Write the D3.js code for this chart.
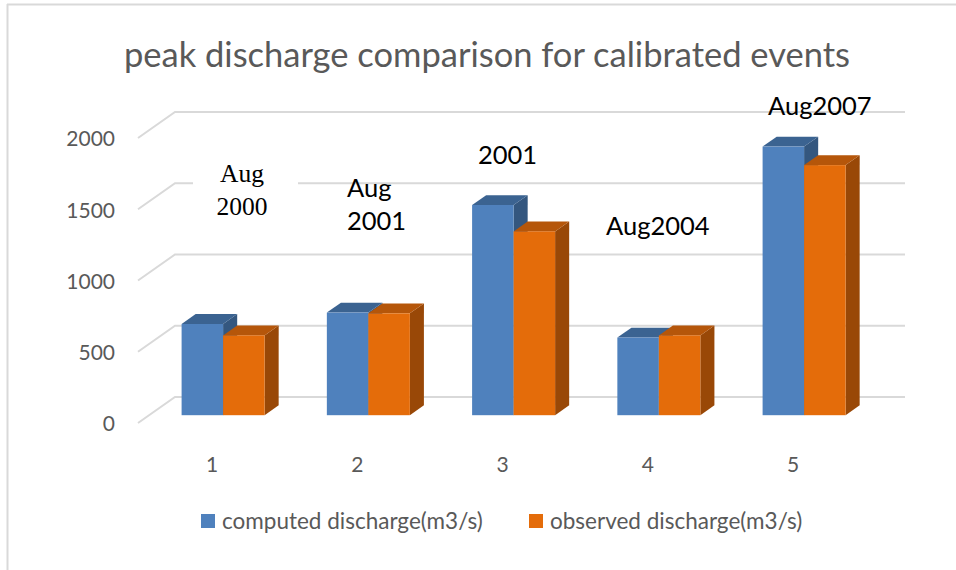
<!DOCTYPE html>
<html>
<head>
<meta charset="utf-8">
<script src="https://cdn.jsdelivr.net/npm/d3@7"></script>
<style>
  body { margin: 0; background: #fff; }
  text { font-family: Lato, "Open Sans", sans-serif; }
</style>
</head>
<body>
<div id="chart"></div>
<script>
// Data
var categories = ["1", "2", "3", "4", "5"];
var seriesNames = ["computed discharge(m3/s)", "observed discharge(m3/s)"];
var computed = [640, 720, 1475, 545, 1885];
var observed = [560, 715, 1290, 560, 1755];
var yTicks = [0, 500, 1000, 1500, 2000];
var eventLabels = [["Aug", "2000"], ["Aug", "2001"], ["2001"], ["Aug2004"], ["Aug2007"]];

var svgWidth = 956;
var svgHeight = 570;

var svg = d3.select("#chart")
  .append("svg")
  .attr("width", svgWidth)
  .attr("height", svgHeight);

// chart area border (only top + left show in the picture)
svg.append("line").attr("x1", 7).attr("x2", 956).attr("y1", 4.5).attr("y2", 4.5)
  .attr("stroke", "#d9d9d9").attr("stroke-width", 2);
svg.append("line").attr("x1", 7.5).attr("x2", 7.5).attr("y1", 4).attr("y2", 570)
  .attr("stroke", "#d9d9d9").attr("stroke-width", 2);

// Title
svg.append("text")
  .attr("x", 487)
  .attr("y", 67)
  .attr("text-anchor", "middle")
  .style("font-size", "34.5px")
  .style("fill", "#595959")
  .text("peak discharge comparison for calibrated events");

// 3D projection: depth goes up and right
var DX = 37, DY = 26;
var yScale = d3.scaleLinear().domain([0, 2000]).range([423, 138]);
var xCat = d3.scalePoint().domain(categories).range([212, 793]);
var xSeries = d3.scaleBand().domain(seriesNames).range([-41.5, 41.5]);

function proj(x, v, z) {
  return [x + z * DX, yScale(v) - z * DY];
}

// back wall gridlines
var wallLeft = 138, wallRight = 905;
svg.append("g").selectAll("path")
  .data(yTicks)
  .enter()
  .append("path")
  .attr("d", function (v) {
    var a = proj(wallLeft, v, 0), b = proj(wallLeft, v, 1), c = [wallRight, b[1]];
    return "M" + a + "L" + b + "L" + c;
  })
  .attr("fill", "none")
  .attr("stroke", "#d9d9d9")
  .attr("stroke-width", 2);

// y axis labels
svg.append("g").selectAll("text")
  .data(yTicks)
  .enter()
  .append("text")
  .attr("x", 115)
  .attr("y", d => yScale(d) + 1)
  .attr("dy", "0.35em")
  .attr("text-anchor", "end")
  .style("font-size", "21px")
  .style("fill", "#595959")
  .text(d => d);

// category labels
svg.append("g").selectAll("text")
  .data(categories)
  .enter()
  .append("text")
  .attr("x", d => xCat(d))
  .attr("y", 465)
  .attr("dy", "0.35em")
  .attr("text-anchor", "middle")
  .style("font-size", "21px")
  .style("fill", "#595959")
  .text(d => d);

// bars
var colors = {
  front: ["#4f81bd", "#e46c0a"],
  top: ["#3b6391", "#b5560a"],
  side: ["#34577f", "#994807"]
};
var z0 = 0.3, z1 = 0.68;

var barData = [];
categories.forEach(function (c, i) {
  [computed[i], observed[i]].forEach(function (v, s) {
    barData.push({ cat: c, s: s, value: v });
  });
});

function poly(pts) { return "M" + pts.join("L") + "Z"; }

var bars = svg.append("g").selectAll("g")
  .data(barData)
  .enter()
  .append("g");

bars.each(function (d) {
  var g = d3.select(this);
  var x0 = xCat(d.cat) + xSeries(seriesNames[d.s]);
  var x1 = x0 + xSeries.bandwidth();
  // right side
  g.append("path")
    .attr("d", poly([proj(x1, 0, z0), proj(x1, 0, z1), proj(x1, d.value, z1), proj(x1, d.value, z0)]))
    .attr("fill", colors.side[d.s]);
  // top
  g.append("path")
    .attr("d", poly([proj(x0, d.value, z0), proj(x0, d.value, z1), proj(x1, d.value, z1), proj(x1, d.value, z0)]))
    .attr("fill", colors.top[d.s]);
  // front
  var p = proj(x0, d.value, z0), q = proj(x1, 0, z0);
  g.append("rect")
    .attr("x", p[0])
    .attr("y", p[1])
    .attr("width", q[0] - p[0])
    .attr("height", q[1] - p[1])
    .attr("fill", colors.front[d.s]);
});

// event annotations (text boxes placed by hand in the original)
var notePos = [
  { x: 242, y: 182, anchor: "middle", serif: true, box: [193, 160, 105, 68] },
  { x: 347, y: 197, anchor: "start" },
  { x: 478, y: 164, anchor: "start" },
  { x: 606, y: 235, anchor: "start" },
  { x: 768, y: 115, anchor: "start" }
];
var lineGap = [33, 33, 0, 0, 0];

eventLabels.forEach(function (lines, i) {
  var pos = notePos[i];
  if (pos.box) {
    svg.append("rect")
      .attr("x", pos.box[0]).attr("y", pos.box[1])
      .attr("width", pos.box[2]).attr("height", pos.box[3])
      .attr("fill", "#fff");
  }
  var t = svg.append("text")
    .attr("x", pos.x)
    .attr("y", pos.y)
    .attr("text-anchor", pos.anchor)
    .style("font-size", "25.5px")
    .style("font-family", pos.serif ? "'Liberation Serif', serif" : null)
    .style("fill", "#000");
  lines.forEach(function (l, j) {
    t.append("tspan")
      .attr("x", pos.x)
      .attr("dy", j === 0 ? 0 : lineGap[i])
      .text(l);
  });
});

// legend
var legend = svg.append("g").selectAll("g")
  .data(seriesNames)
  .enter()
  .append("g")
  .attr("transform", (d, i) => `translate(${i === 0 ? 201 : 529}, 514)`);

legend.append("rect")
  .attr("width", 14)
  .attr("height", 14)
  .attr("fill", (d, i) => colors.front[i]);

legend.append("text")
  .attr("x", 21)
  .attr("y", 7)
  .attr("dy", "0.35em")
  .style("font-size", "22.5px")
  .style("fill", "#595959")
  .text(d => d);
</script>
</body>
</html>
